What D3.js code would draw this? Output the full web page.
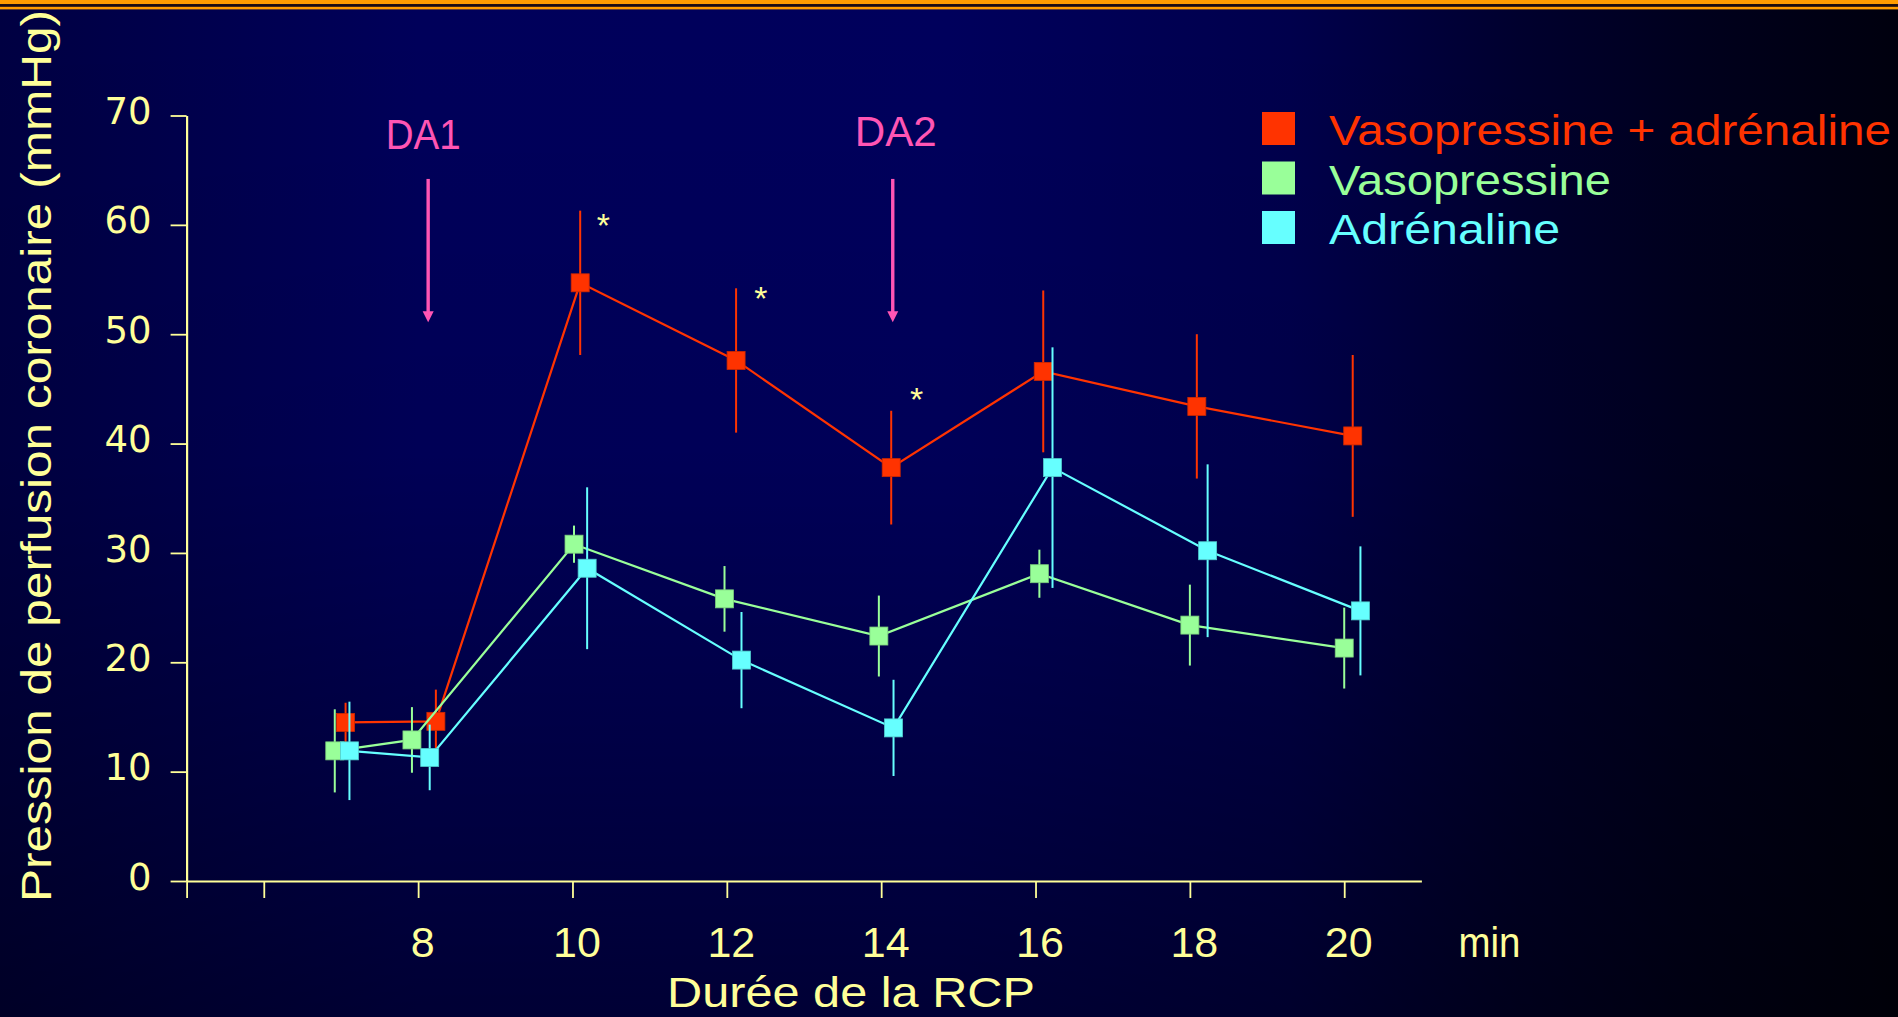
<!DOCTYPE html>
<html>
<head>
<meta charset="utf-8">
<script src="https://cdn.jsdelivr.net/npm/d3@7"></script>
<style>
  html, body { margin: 0; padding: 0; background: #000030; overflow: hidden; }
  svg { display: block; }
</style>
</head>
<body>
<svg id="chart" width="1898" height="1017"></svg>
<script>
// ---- Données : pression de perfusion coronaire (mmHg), moyenne ± erreur ----
const seriesNames = ["Vasopressine + adrénaline", "Vasopressine", "Adrénaline"];

// instants de mesure (min), légèrement décalés par groupe
const tempsVasoAdre = [7.06, 8.23, 10.10, 12.12, 14.13, 16.10, 18.09, 20.11];
const tempsVaso     = [6.92, 7.92, 10.02, 11.97, 13.97, 16.05, 18.00, 20.00];
const tempsAdre     = [7.11, 8.15, 10.19, 12.19, 14.16, 16.22, 18.23, 20.21];

const pcpVasoAdre = [14.5, 14.6, 54.7, 47.6, 37.8, 46.6, 43.4, 40.7];
const pcpVaso     = [11.9, 12.9, 30.8, 25.8, 22.4, 28.1, 23.4, 21.3];
const pcpAdre     = [11.9, 11.3, 28.6, 20.2, 14.0, 37.8, 30.2, 24.7];

const errVasoAdre = [1.8, 2.9, 6.6, 6.6, 5.2, 7.4, 6.6, 7.4];
const errVaso     = [3.8, 3.0, 1.7, 3.0, 3.7, 2.2, 3.7, 3.7];
const errAdre     = [4.5, 3.0, 7.4, 4.4, 4.4, 11.0, 7.9, 5.9];

// axes
const xTicks = [6, 8, 10, 12, 14, 16, 18, 20];
const xTickLabels = ["", "8", "10", "12", "14", "16", "18", "20"];
const yTicks = [0, 10, 20, 30, 40, 50, 60, 70];

// doses d'adrénaline (flèches) et significativité (*)
const doseLabels = ["DA1", "DA2"];
const doseTemps = [8.13, 14.15];
const doseHaut = [64.2, 64.2];
const doseBas = [51.1, 51.1];
const signifTemps = [10.40, 12.44, 14.46];
const signifPcp = [60.1, 53.4, 44.2];

// ---- Mise en page ----
const W = 1898, H = 1017;
const yellow = "#ffff99";
const pink = "#ff55b4";
const colors = ["#ff3300", "#99ff99", "#66ffff"];
const fontText = "'Liberation Sans', Arial, sans-serif";

const svg = d3.select("#chart");
const defs = svg.append("defs");

// fond bleu nuit dégradé
const gH = defs.append("linearGradient").attr("id", "bgH")
  .attr("x1", 0).attr("x2", 1).attr("y1", 0).attr("y2", 0);
[[0, "#000042"], [0.22, "#00005a"], [0.5, "#00005c"], [0.68, "#00004c"],
 [0.8, "#00002e"], [0.9, "#00001c"], [1, "#00000e"]]
  .forEach(([o, c]) => gH.append("stop").attr("offset", o).attr("stop-color", c));
const gV = defs.append("linearGradient").attr("id", "bgV")
  .attr("x1", 0).attr("x2", 0).attr("y1", 0).attr("y2", 1);
[[0, 0], [0.45, 0.05], [1, 0.42]]
  .forEach(([o, a]) => gV.append("stop").attr("offset", o)
    .attr("stop-color", "#000000").attr("stop-opacity", a));

svg.append("rect").attr("width", W).attr("height", H).attr("fill", "url(#bgH)");
svg.append("rect").attr("width", W).attr("height", H).attr("fill", "url(#bgV)");

// filets orange en haut
svg.append("rect").attr("x", 0).attr("y", 0).attr("width", W).attr("height", 4.2).attr("fill", "#ff9c00");
svg.append("rect").attr("x", 0).attr("y", 4.2).attr("width", W).attr("height", 2.6).attr("fill", "#1a0c10");
svg.append("rect").attr("x", 0).attr("y", 6.8).attr("width", W).attr("height", 2.6).attr("fill", "#ff9c00");

// échelles
const x = d3.scaleLinear().domain([5, 21]).range([186.6, 1421.4]);
const y = d3.scaleLinear().domain([0, 70]).range([881, 115.5]);

// axe des ordonnées
const yAxis = svg.append("g")
  .attr("transform", `translate(${x(5)},0)`)
  .call(d3.axisLeft(y).tickValues(yTicks).tickSize(16).tickSizeOuter(0).tickPadding(19));
yAxis.select(".domain").attr("stroke", yellow).attr("stroke-width", 2.2);
yAxis.selectAll(".tick line").attr("stroke", yellow).attr("stroke-width", 1.8);
yAxis.selectAll(".tick text")
  .attr("fill", yellow)
  .attr("font-family", "'DejaVu Sans', sans-serif")
  .attr("font-size", 37)
  .attr("dy", "0.22em");

// axe des abscisses
const xAxis = svg.append("g")
  .attr("transform", `translate(0,${y(0)})`)
  .call(d3.axisBottom(x).tickValues([5, ...xTicks]).tickSize(17).tickSizeOuter(0)
    .tickFormat(v => { const i = xTicks.indexOf(v); return i < 0 ? "" : xTickLabels[i]; }));
xAxis.select(".domain").attr("stroke", yellow).attr("stroke-width", 2.2);
xAxis.selectAll(".tick line").attr("stroke", yellow).attr("stroke-width", 1.8);
xAxis.selectAll(".tick text")
  .attr("fill", yellow)
  .attr("font-family", fontText)
  .attr("font-size", 43)
  .attr("y", 76).attr("dy", 0)
  .attr("x", 4);

svg.append("text")
  .attr("x", x(21) + 68).attr("y", y(0) + 76)
  .attr("text-anchor", "middle")
  .attr("fill", yellow).attr("font-family", fontText).attr("font-size", 43)
  .attr("textLength", 62).attr("lengthAdjust", "spacingAndGlyphs")
  .text("min");

// titres des axes
svg.append("text")
  .attr("x", 851).attr("y", 1007)
  .attr("text-anchor", "middle")
  .attr("fill", yellow).attr("font-family", fontText).attr("font-size", 43)
  .attr("textLength", 368).attr("lengthAdjust", "spacingAndGlyphs")
  .text("Durée de la RCP");

svg.append("text")
  .attr("transform", "translate(51,456) rotate(-90)")
  .attr("text-anchor", "middle")
  .attr("fill", yellow).attr("font-family", fontText).attr("font-size", 42)
  .attr("textLength", 892).attr("lengthAdjust", "spacingAndGlyphs")
  .text("Pression de perfusion coronaire (mmHg)");

// flèches d'injection
doseLabels.forEach((lab, i) => {
  const ax = x(doseTemps[i]);
  const yTop = y(doseHaut[i]);
  const yTip = y(doseBas[i]);
  svg.append("line")
    .attr("x1", ax).attr("x2", ax).attr("y1", yTop).attr("y2", yTip - 9)
    .attr("stroke", pink).attr("stroke-width", 3.4);
  svg.append("path")
    .attr("d", `M${ax - 5.5},${yTip - 11} L${ax + 5.5},${yTip - 11} L${ax},${yTip} Z`)
    .attr("fill", pink);
  svg.append("text")
    .attr("x", ax + (i === 0 ? -5 : 3)).attr("y", i === 0 ? 149 : 146)
    .attr("text-anchor", "middle")
    .attr("fill", pink).attr("font-family", fontText).attr("font-size", 43)
    .attr("textLength", i === 0 ? 75 : 82).attr("lengthAdjust", "spacingAndGlyphs")
    .text(lab);
});

// astérisques de significativité
signifTemps.forEach((t, i) => {
  svg.append("text")
    .attr("x", x(t)).attr("y", y(signifPcp[i]) + 13)
    .attr("text-anchor", "middle")
    .attr("fill", yellow).attr("font-family", fontText).attr("font-size", 34)
    .text("*");
});

// séries : barres d'erreur, courbe, marqueurs carrés
const series = [
  { name: seriesNames[0], t: tempsVasoAdre, v: pcpVasoAdre, e: errVasoAdre, color: colors[0] },
  { name: seriesNames[1], t: tempsVaso, v: pcpVaso, e: errVaso, color: colors[1] },
  { name: seriesNames[2], t: tempsAdre, v: pcpAdre, e: errAdre, color: colors[2] }
];

const line = d3.line().x(d => x(d.t)).y(d => y(d.v));
const sq = 18;

series.forEach(s => {
  const pts = s.t.map((t, i) => ({ t, v: s.v[i], e: s.e[i] }));
  const g = svg.append("g");
  g.selectAll("line.err").data(pts).join("line")
    .attr("class", "err")
    .attr("x1", d => x(d.t)).attr("x2", d => x(d.t))
    .attr("y1", d => y(d.v + d.e)).attr("y2", d => y(d.v - d.e))
    .attr("stroke", s.color).attr("stroke-width", 2);
  g.append("path").datum(pts)
    .attr("d", line)
    .attr("fill", "none")
    .attr("stroke", s.color).attr("stroke-width", 2.2);
  g.selectAll("rect.pt").data(pts).join("rect")
    .attr("class", "pt")
    .attr("x", d => x(d.t) - sq / 2).attr("y", d => y(d.v) - sq / 2)
    .attr("width", sq).attr("height", sq)
    .attr("fill", s.color)
    .attr("stroke", d3.color(s.color).darker(0.6)).attr("stroke-width", 0.8);
});

// légende
const legend = svg.append("g");
const legendTextLen = [562, 282, 231];
series.forEach((s, i) => {
  const ly = 112 + i * 49.5;
  legend.append("rect")
    .attr("x", 1262).attr("y", ly).attr("width", 33).attr("height", 33)
    .attr("fill", s.color);
  legend.append("text")
    .attr("x", 1329).attr("y", ly + 33)
    .attr("fill", s.color).attr("font-family", fontText).attr("font-size", 43)
    .attr("textLength", legendTextLen[i]).attr("lengthAdjust", "spacingAndGlyphs")
    .text(s.name);
});
</script>
</body>
</html>
